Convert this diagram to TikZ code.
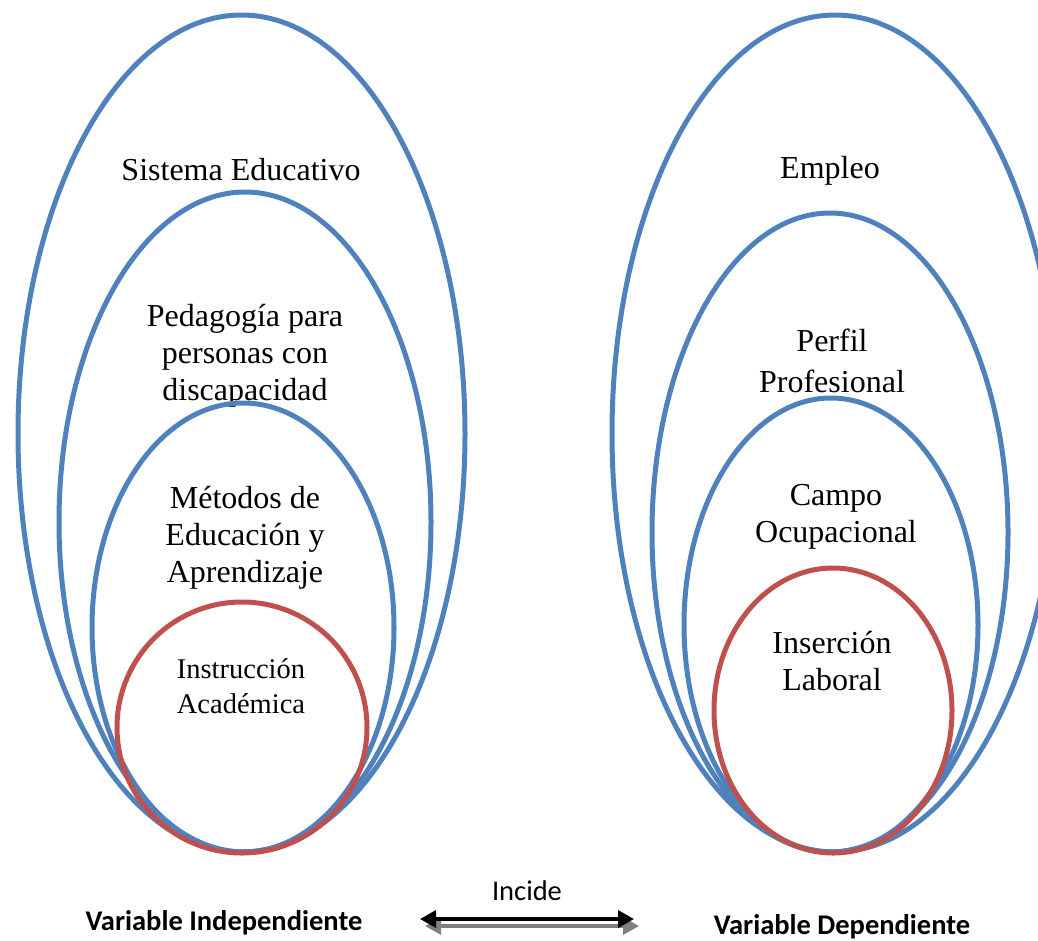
\documentclass[tikz,border=0pt]{standalone}
\usepackage{fontspec}
\setmainfont{Liberation Serif}
\newfontfamily\calibri{Carlito}
\usetikzlibrary{arrows.meta}
\definecolor{ovalblue}{RGB}{79,129,189}
\definecolor{ovalred}{RGB}{192,80,77}

\begin{document}
\begin{tikzpicture}[x=1pt,y=-1pt,
    oval/.style={draw=ovalblue,line width=5pt},
    core/.style={draw=ovalred,line width=5pt},
    lbl/.style={align=center,font=\fontsize{32}{37}\selectfont},
    small/.style={align=center,font=\fontsize{28.5}{35}\selectfont},
    varlbl/.style={font=\calibri\bfseries\fontsize{28.5}{34}\selectfont},
    incide/.style={{Triangle[length=16pt,width=17pt]}-{Triangle[length=16pt,width=17pt]},line width=3.5pt}]
    \clip (0,0) rectangle (1038,940);
    % left side
    \node[lbl] at (241,170) (sistema) {Sistema Educativo};
    \node[lbl] at (245,356) (pedagogia) {Pedagogía para\\personas con\\discapacidad};
    \node[lbl] at (245,538) (metodos) {Métodos de\\Educación y\\Aprendizaje};
    \node[small] at (241,686) (instruccion) {Instrucción\\Académica};
    \draw[oval] (241.5,433.5) ellipse [x radius=223.5pt, y radius=418.5pt];
    \draw[oval] (245,522) ellipse [x radius=186pt, y radius=330pt];
    \draw[oval] (243,627.5) ellipse [x radius=151pt, y radius=224.5pt];
    \draw[core] (242,727.5) ellipse [x radius=125pt, y radius=125.5pt];
    % right side
    \node[lbl] at (830,171) (empleo) {Empleo};
    \node[lbl,font=\fontsize{32}{41}\selectfont] at (832,361) (perfil) {Perfil\\Profesional};
    \node[lbl] at (836,517) (campo) {Campo\\Ocupacional};
    \node[lbl] at (832,661) (insercion) {Inserción\\Laboral};
    \draw[oval] (835,433.5) ellipse [x radius=223pt, y radius=418.5pt];
    \draw[oval] (830,532.5) ellipse [x radius=178pt, y radius=319.5pt];
    \draw[oval] (831,625) ellipse [x radius=147pt, y radius=227pt];
    \draw[core] (833,710.5) ellipse [x radius=119pt, y radius=142.5pt];
    % bottom
    \node[varlbl] at (224,923) (indep) {Variable Independiente};
    \node[varlbl] at (842,927) (dep) {Variable Dependiente};
    \node[font=\calibri\fontsize{28.5}{34}\selectfont] at (527,891) (inc) {Incide};
    \coordinate (incL) at (420,919);
    \coordinate (incR) at (634,919);
    \draw[incide,gray] ([shift={(5,7)}]incL) -- ([shift={(5,7)}]incR);
    \draw[incide,black] (incL) -- (incR);
\end{tikzpicture}
\end{document}
